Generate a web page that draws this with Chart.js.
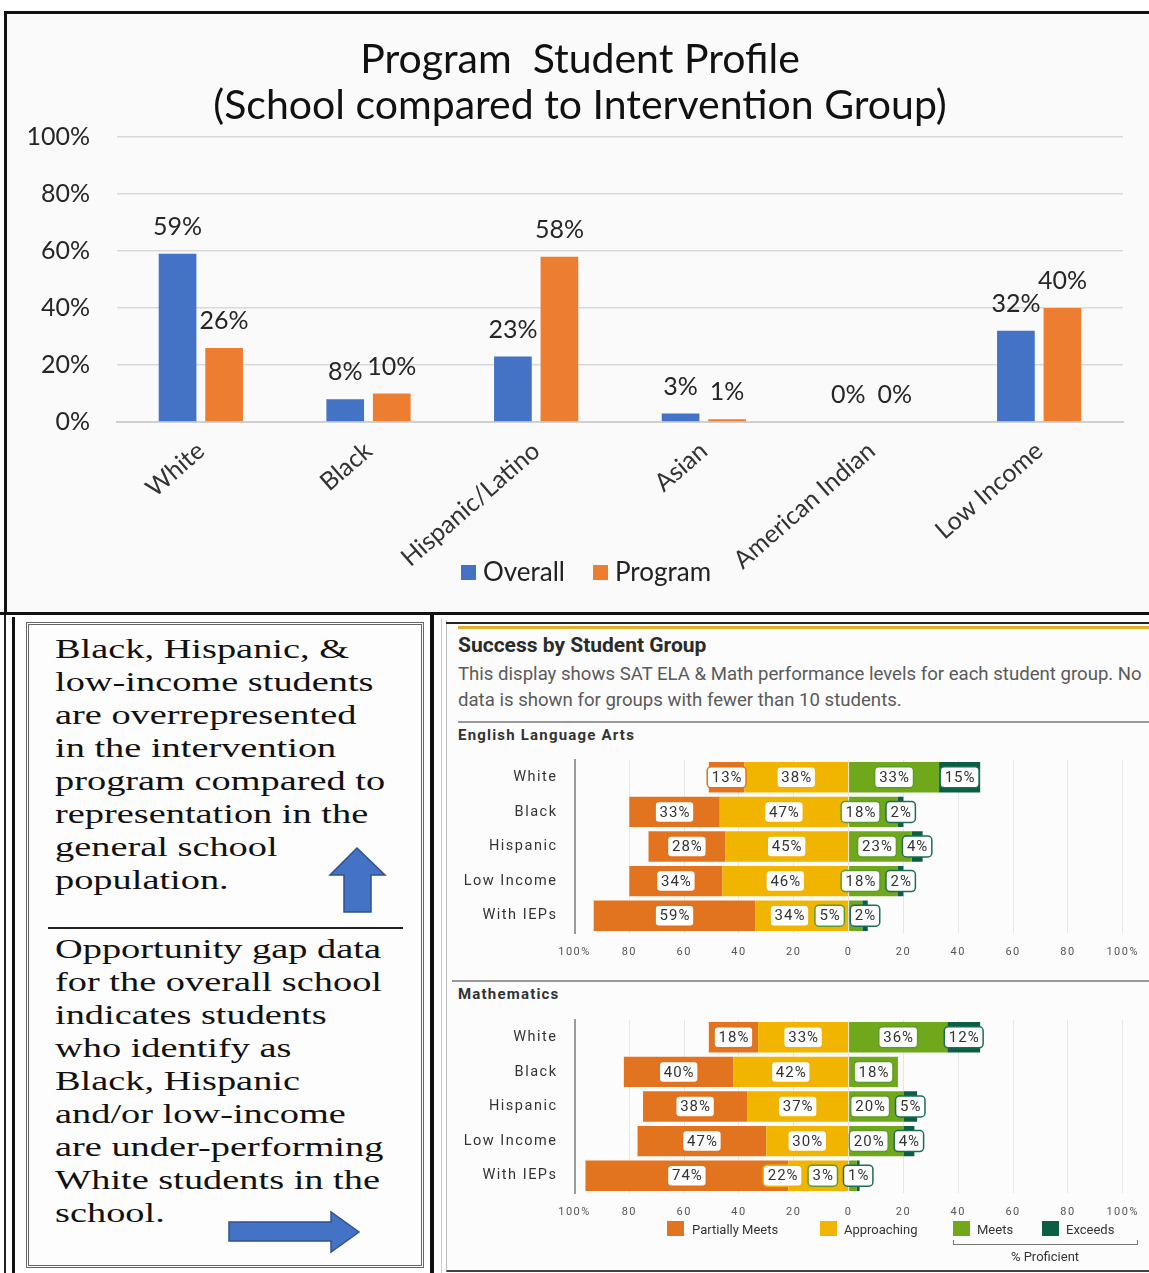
<!DOCTYPE html>
<html>
<head>
<meta charset="utf-8">
<script src="https://cdn.jsdelivr.net/npm/chart.js@4.4.1/dist/chart.umd.min.js"></script>
<style>
  body { margin: 0; width: 1149px; height: 1273px; position: relative; overflow: hidden; background: #fff; font-family: Lato, sans-serif; }
  .abs { position: absolute; }
  canvas { position: absolute; }
  .note { position: absolute; left: 55px; font-family: "Liberation Serif", "Times New Roman", serif; font-size: 28px; line-height: 33px; color: #111; white-space: pre; transform: scaleX(1.37); transform-origin: 0 0; }
  .rp { font-family: Roboto, sans-serif; color: #333; }
  .key { position: absolute; font-family: Roboto, sans-serif; font-size: 13px; color: #333; line-height: 16px; white-space: nowrap; }
  .swatch { position: absolute; width: 17px; height: 15px; }
</style>
</head>
<body>

<!-- top panel frame -->
<div class="abs" style="left:4px;top:11px;width:1145px;height:601px;border-top:3px solid #111;border-left:3px solid #111;background:#fafafa;"></div>
<canvas id="profileChart" width="1142" height="598" style="left:7px;top:14px;"></canvas>
<div class="abs" style="left:7px;top:35px;width:1146px;text-align:center;font-size:41px;line-height:46px;color:#111;white-space:pre;">Program  Student Profile
(School compared to Intervention Group)</div>
<div class="abs" style="left:461px;top:565px;width:15px;height:15px;background:#4472c4;"></div>
<div class="abs" style="left:483px;top:556px;font-size:26px;line-height:31px;color:#222;">Overall</div>
<div class="abs" style="left:593px;top:565px;width:15px;height:15px;background:#ed7d31;"></div>
<div class="abs" style="left:615px;top:556px;font-size:26px;line-height:31px;color:#222;">Program</div>

<!-- separator and panel rules -->
<div class="abs" style="left:0;top:612px;width:1149px;height:3px;background:#111;"></div>
<div class="abs" style="left:4px;top:615px;width:2px;height:658px;background:#222;"></div>
<div class="abs" style="left:12px;top:617px;width:3px;height:656px;background:#111;"></div>
<div class="abs" style="left:430px;top:615px;width:4px;height:658px;background:#111;"></div>
<div class="abs" style="left:441px;top:618px;width:1px;height:655px;background:#ccc;"></div>

<!-- text box -->
<div class="abs" style="left:26px;top:622px;width:392px;height:640px;border:3px double #666;background:#fdfdfd;"></div>
<div class="note" style="top:632px;">Black, Hispanic, &amp;
low-income students
are overrepresented
in the intervention
program compared to
representation in the
general school
population.</div>
<div class="abs" style="left:48px;top:927px;width:355px;height:2px;background:#222;"></div>
<div class="note" style="top:932px;">Opportunity gap data
for the overall school
indicates students
who identify as
Black, Hispanic
and/or low-income
are under-performing
White students in the
school.</div>
<svg class="abs" style="left:0;top:0;" width="440" height="1273">
  <polygon points="357,848 385,875 371,875 371,912 344,912 344,875 330,875" fill="#4472c4" stroke="#2f528f" stroke-width="1.5"/>
  <polygon points="229,1222 331,1222 331,1212 359,1232 331,1252 331,1241 229,1241" fill="#4472c4" stroke="#2f528f" stroke-width="1.5"/>
</svg>

<!-- performance panel -->
<div class="abs" style="left:446px;top:620px;width:703px;height:650px;border-left:1px solid #bbb;border-bottom:2px solid #444;background:#fcfcfc;"></div>
<div class="abs" style="left:446px;top:622px;width:703px;height:2px;background:#222;"></div>
<div class="abs" style="left:458px;top:626px;width:691px;height:3px;background:#e2b02c;"></div>
<div class="abs rp" style="left:458px;top:632px;font-size:21px;font-weight:700;line-height:26px;color:#2b2b2b;">Success by Student Group</div>
<div class="abs rp" style="left:458px;top:661px;font-size:18.6px;line-height:26px;color:#5a5a5a;white-space:nowrap;">This display shows SAT ELA &amp; Math performance levels for each student group. No<br>data is shown for groups with fewer than 10 students.</div>
<div class="abs" style="left:458px;top:721px;width:691px;height:2px;background:#999;"></div>
<div class="abs rp" style="left:458px;top:725px;font-size:15px;font-weight:700;letter-spacing:1.2px;line-height:20px;">English Language Arts</div>
<div class="abs" style="left:452px;top:980px;width:697px;height:2px;background:#999;"></div>
<div class="abs rp" style="left:458px;top:984px;font-size:15px;font-weight:700;letter-spacing:1.2px;line-height:20px;">Mathematics</div>
<canvas id="elaChart" width="699" height="210" style="left:450px;top:755px;"></canvas>
<canvas id="mathChart" width="699" height="210" style="left:450px;top:1015px;"></canvas>

<div class="swatch" style="left:667px;top:1221px;background:#e3741f;"></div>
<div class="key" style="left:692px;top:1222px;">Partially Meets</div>
<div class="swatch" style="left:820px;top:1221px;background:#f1b500;"></div>
<div class="key" style="left:844px;top:1222px;">Approaching</div>
<div class="swatch" style="left:953px;top:1221px;background:#6fa81a;"></div>
<div class="key" style="left:977px;top:1222px;">Meets</div>
<div class="swatch" style="left:1042px;top:1221px;background:#0b5e44;"></div>
<div class="key" style="left:1066px;top:1222px;">Exceeds</div>
<div class="abs" style="left:953px;top:1240px;width:183px;height:4px;border:1px solid #777;border-top:none;"></div>
<div class="key" style="left:1005px;top:1249px;width:80px;text-align:center;">% Proficient</div>

<script>
// student profile: share of each group, school vs. intervention program
const profileGroups = ['White', 'Black', 'Hispanic/Latino', 'Asian', 'American Indian', 'Low Income'];
const overallPct = [59, 8, 23, 3, 0, 32];
const programPct = [26, 10, 58, 1, 0, 40];

// SAT performance levels by student group (percent of students)
const studentGroups = ['White', 'Black', 'Hispanic', 'Low Income', 'With IEPs'];
const levelNames = ['Partially Meets', 'Approaching', 'Meets', 'Exceeds'];
const levelColors = ['#e3741f', '#f1b500', '#6fa81a', '#0b5e44'];
const levelBorders = ['#e2711d', '#efb300', '#5e9c2a', '#1b6e55'];

const elaPartiallyMeets = [13, 33, 28, 34, 59];
const elaApproaching = [38, 47, 45, 46, 34];
const elaMeets = [33, 18, 23, 18, 5];
const elaExceeds = [15, 2, 4, 2, 2];

const mathPartiallyMeets = [18, 40, 38, 47, 74];
const mathApproaching = [33, 42, 37, 30, 22];
const mathMeets = [36, 18, 20, 20, 3];
const mathExceeds = [12, 0, 5, 4, 1];

// percentages written above each bar
const barValueLabels = {
  id: 'barValueLabels',
  afterDatasetsDraw(chart) {
    const ctx = chart.ctx;
    ctx.save();
    ctx.font = '25px Lato';
    ctx.fillStyle = '#262626';
    ctx.textAlign = 'center';
    ctx.textBaseline = 'middle';
    chart.data.datasets.forEach((ds, i) => {
      chart.getDatasetMeta(i).data.forEach((bar, j) => {
        ctx.fillText(ds.data[j] + '%', bar.x, bar.y - 27);
      });
    });
    ctx.restore();
  }
};

// boxed labels on the stacked segments, nudged left when they collide
const segmentLabels = {
  id: 'segmentLabels',
  afterDatasetsDraw(chart) {
    const ctx = chart.ctx;
    ctx.save();
    ctx.font = '15px Roboto';
    ctx.letterSpacing = '1px';
    ctx.textAlign = 'center';
    ctx.textBaseline = 'middle';
    const order = chart.data.datasets
      .map((ds, i) => ({ ds, i }))
      .sort((a, b) => a.ds.slot - b.ds.slot);
    for (let r = 0; r < chart.data.labels.length; r++) {
      const items = [];
      order.forEach(({ ds, i }) => {
        const v = ds.data[r];
        if (!v) return;
        const bar = chart.getDatasetMeta(i).data[r];
        const text = Math.abs(v) + '%';
        const w = ctx.measureText(text).width + 8;
        const c = (bar.x + bar.base) / 2;
        items.push({ text, w, c, y: bar.y, border: levelBorders[ds.slot] });
      });
      for (let k = items.length - 2; k >= 0; k--) {
        const limit = items[k + 1].c - items[k + 1].w / 2 - 6;
        if (items[k].c + items[k].w / 2 > limit) items[k].c = limit - items[k].w / 2;
      }
      items.forEach(it => {
        ctx.beginPath();
        ctx.roundRect(it.c - it.w / 2, it.y - 10.5, it.w, 21, 4);
        ctx.fillStyle = '#fff';
        ctx.fill();
        ctx.lineWidth = 1.5;
        ctx.strokeStyle = it.border;
        ctx.stroke();
        ctx.fillStyle = '#333';
        ctx.fillText(it.text, it.c + 0.5, it.y + 1);
      });
    }
    ctx.restore();
  }
};

const spacedText = {
  id: 'spacedText',
  beforeDraw(chart) { chart.ctx.letterSpacing = '1.5px'; },
  afterDraw(chart) { chart.ctx.letterSpacing = '0px'; }
};

function drawProfile() {
  new Chart(document.getElementById('profileChart'), {
    type: 'bar',
    data: {
      labels: profileGroups,
      datasets: [
        { label: 'Overall', data: overallPct, backgroundColor: '#4472c4' },
        { label: 'Program', data: programPct, backgroundColor: '#ed7d31' }
      ]
    },
    options: {
      responsive: false,
      animation: false,
      categoryPercentage: 0.555,
      barPercentage: 0.81,
      layout: { padding: { left: 0, right: 26, top: 123, bottom: 0 } },
      plugins: {
        legend: { display: false },
        tooltip: { enabled: false }
      },
      scales: {
        x: {
          grid: { display: false, drawTicks: false },
          border: { display: true, color: '#d0d0d0', width: 2 },
          ticks: { color: '#333', font: { family: 'Lato', size: 25 }, minRotation: 41, maxRotation: 41, padding: 14 },
          afterFit(scale) { scale.height = 190; }
        },
        y: {
          min: 0,
          max: 100,
          grid: { color: '#d9d9d9', lineWidth: 1.5, drawTicks: false },
          border: { display: false },
          ticks: { stepSize: 20, padding: 27, color: '#262626', font: { family: 'Lato', size: 25 }, callback: v => v + '%' },
          afterFit(scale) { scale.width = 110; }
        }
      }
    },
    plugins: [barValueLabels]
  });
}

function drawLevels(id, partial, approaching, meets, exceeds) {
  new Chart(document.getElementById(id), {
    type: 'bar',
    data: {
      labels: studentGroups,
      datasets: [
        { label: levelNames[1], slot: 1, data: approaching.map(v => -v), backgroundColor: levelColors[1] },
        { label: levelNames[0], slot: 0, data: partial.map(v => -v), backgroundColor: levelColors[0] },
        { label: levelNames[2], slot: 2, data: meets, backgroundColor: levelColors[2] },
        { label: levelNames[3], slot: 3, data: exceeds, backgroundColor: levelColors[3] }
      ]
    },
    options: {
      indexAxis: 'y',
      responsive: false,
      animation: false,
      categoryPercentage: 0.88,
      barPercentage: 1,
      layout: { padding: { left: 0, right: 21.5, top: 5, bottom: 0 } },
      plugins: { legend: { display: false }, tooltip: { enabled: false } },
      scales: {
        x: {
          stacked: true,
          min: -100,
          max: 100,
          grid: { color: '#e6e6e6', drawTicks: false },
          border: { display: false },
          ticks: {
            stepSize: 20,
            padding: 13,
            color: '#555',
            font: { family: 'Roboto', size: 11 },
            callback: v => Math.abs(v) + (Math.abs(v) === 100 ? '%' : '')
          },
          afterFit(scale) { scale.height = 32; }
        },
        y: {
          stacked: true,
          grid: { display: false, drawTicks: false },
          border: { display: true, color: '#9a9a9a', width: 2 },
          ticks: { padding: 17, color: '#333', font: { family: 'Roboto', size: 14.5 } },
          afterFit(scale) {
            scale.width = 124.5;
            scale.paddingTop = 0;
            scale.paddingBottom = 0;
          }
        }
      }
    },
    plugins: [spacedText, segmentLabels]
  });
}

Promise.all([
  document.fonts.load('23px Lato'),
  document.fonts.load('14px Roboto'),
  document.fonts.load('28px "Liberation Serif"')
]).catch(() => {}).then(() => {
  drawProfile();
  drawLevels('elaChart', elaPartiallyMeets, elaApproaching, elaMeets, elaExceeds);
  drawLevels('mathChart', mathPartiallyMeets, mathApproaching, mathMeets, mathExceeds);
});
</script>
</body>
</html>
